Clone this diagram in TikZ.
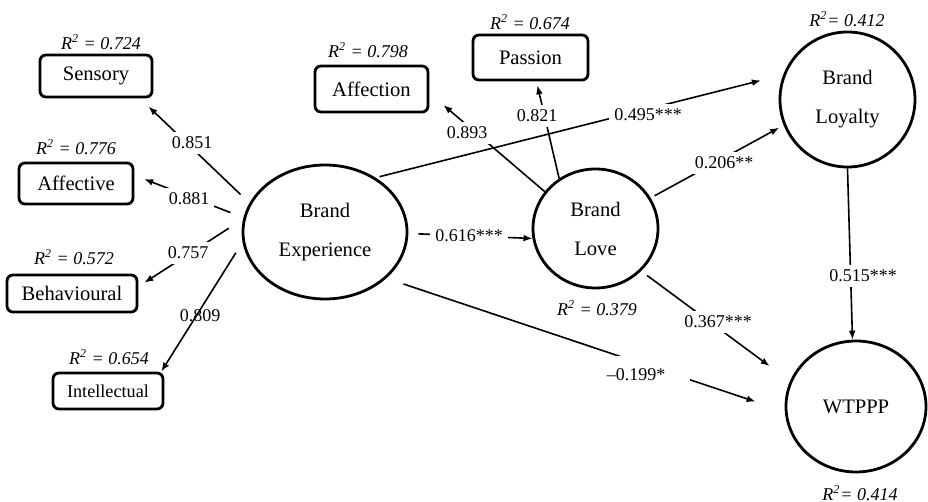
\documentclass[tikz,border=0pt]{standalone}
\usepackage{fontspec}
\setmainfont{Liberation Serif}
\usetikzlibrary{arrows.meta,shapes.geometric}
\tikzset{
  ind/.style  = {rectangle, rounded corners=3pt, draw, line width=1.4pt, inner sep=0pt,
                 align=center, font=\fontsize{10.3}{12}\selectfont},
  lat/.style  = {ellipse, draw, line width=1.4pt, inner sep=0pt, align=center,
                 font=\fontsize{10.3}{19.5}\selectfont},
  rsq/.style  = {font=\fontsize{9}{11}\selectfont\itshape, inner sep=0pt},
  coef/.style = {font=\fontsize{9}{11}\selectfont, fill=white, inner sep=2.5pt},
  ar/.style   = {-{Latex[length=4.5pt,width=3.4pt]}, line width=0.8pt},
}

\begin{document}
\begin{tikzpicture}[x=0.5pt, y=-0.5pt]
  \useasboundingbox (0,0) rectangle (928,502);

  % indicators
  \node[ind, minimum width=56pt, minimum height=21pt] (sen) at (96,76) {Sensory};
  \node[ind, minimum width=57pt, minimum height=20.5pt] (aff) at (76,183.5) {Affective};
  \node[ind, minimum width=65pt, minimum height=18.5pt] (beh) at (72,293.5) {Behavioural};
  \node[ind, minimum width=55pt, minimum height=18pt, font=\fontsize{9.1}{11}\selectfont] (int) at (108,391) {Intellectual};
  \node[ind, minimum width=56.5pt, minimum height=23pt] (affn) at (371.5,89) {Affection};
  \node[ind, minimum width=57.5pt, minimum height=22.5pt] (pas) at (530.5,57.5) {Passion};

  % constructs
  \node[lat, minimum width=82pt, minimum height=67pt] (be) at (325,232) {Brand\\Experience};
  \node[lat, minimum width=62.5pt, minimum height=59.5pt] (love) at (595.5,228.5) {Brand\\Love};
  \node[lat, minimum width=67.5pt, minimum height=67.5pt] (loy) at (847.5,99.5) {Brand\\Loyalty};
  \node[lat, minimum width=70pt, minimum height=65.5pt] (wtp) at (856,406.5) {WTPPP};

  \node[rsq] (rsen) at (101,42) {R\textsuperscript{2} = 0.724};
  \node[rsq] (raff) at (76,147) {R\textsuperscript{2} = 0.776};
  \node[rsq] (rbeh) at (74,257) {R\textsuperscript{2} = 0.572};
  \node[rsq] (rint) at (109,357) {R\textsuperscript{2} = 0.654};
  \node[rsq] (raffn) at (368,50) {R\textsuperscript{2} = 0.798};
  \node[rsq] (rpas) at (530,22) {R\textsuperscript{2} = 0.674};
  \node[rsq] (rloy) at (847,19) {R\textsuperscript{2}= 0.412};
  \node[rsq] (rlove) at (597,308) {R\textsuperscript{2} = 0.379};
  \node[rsq] (rwtp) at (860,493) {R\textsuperscript{2}= 0.414};

  % paths
  \draw[ar, shorten <=6.1pt, shorten >=5.9pt] (be.159) -- (sen.-27.5);
  \draw[ar, shorten <=7pt, shorten >=5.2pt] (be.170) -- (aff.8);
  \draw[ar, shorten <=8.5pt, shorten >=3.5pt] (be.171) -- (beh.6);
  \draw[ar, shorten <=6.3pt] (be.187) -- (int.20);
  \draw[ar, shorten >=9.2pt] (love.144) -- (affn.-4);
  \draw[ar, shorten >=2pt] (love.126) -- (pas.-76);
  \draw[ar, shorten <=5pt] (be.-1.5) -- (love.189);
  \draw[ar, shorten <=2pt, shorten >=11.5pt] (be.47) -- (loy.159);
  \draw[ar, shorten <=2.2pt, shorten >=2.5pt] (love.29) -- (loy.202.6);
  \draw[ar] (loy.south) -- (wtp.93);
  \draw[ar, shorten <=3.7pt, shorten >=12.6pt] (love.-43) -- (wtp.159);
  \draw[ar, shorten <=9pt, shorten >=15.4pt] (be.-37) -- (wtp.184);

  \node[coef] (c851) at (192,143) {0.851};
  \node[coef] (c881) at (189,199) {0.881};
  \node[coef] (c757) at (188,253) {0.757};
  \node[coef, fill=none] (c809) at (200,316) {0.809};
  \node[coef] (c893) at (467,133) {0.893};
  \node[coef] (c821) at (537,116) {0.821};
  \node[coef] (c616) at (469,236) {0.616***};
  \node[coef] (c495) at (648,115) {0.495***};
  \node[coef] (c206) at (724,163) {0.206**};
  \node[coef] (c515) at (863,276) {0.515***};
  \node[coef] (c367) at (718,322) {0.367***};
  \node[coef, inner xsep=8.5pt, inner ysep=6.5pt] (c199) at (644,375) {\phantom{\textendash0.199*}};
  \node[coef, fill=none] (c199t) at (636,375) {\textendash0.199*};
\end{tikzpicture}
\end{document}
